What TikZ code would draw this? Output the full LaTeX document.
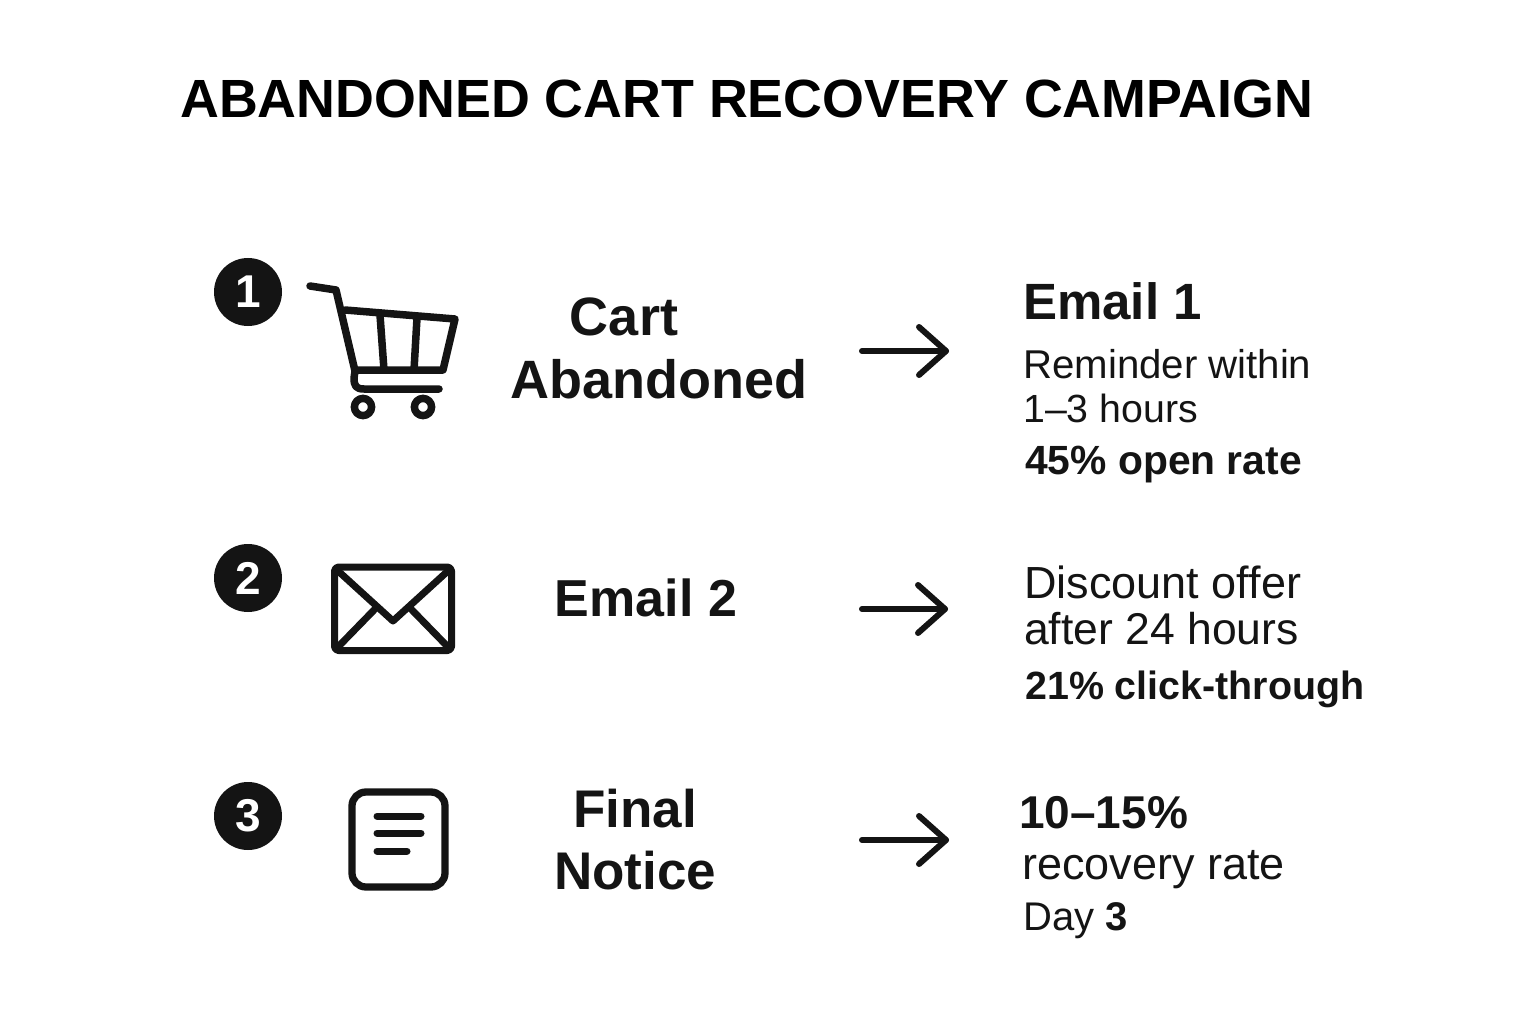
\documentclass[tikz,border=0pt]{standalone}
\usepackage{fontspec}
\setmainfont{Liberation Sans}
\usetikzlibrary{calc}
\begin{document}
\begin{tikzpicture}[x=1pt,y=-1pt,
  ink/.style={draw=black!92,line width=7.5pt,line cap=round,line join=round},
  badge/.style={circle,fill=black!92,minimum size=68pt,inner sep=0pt,text=white,font=\fontsize{46}{46}\selectfont\bfseries},
  head/.style={font=\fontsize{54}{62}\selectfont\bfseries,align=center,text=black!92},
  big/.style={font=\fontsize{51}{62}\selectfont\bfseries,anchor=west,inner sep=0pt,text=black!92},
  body/.style={font=\fontsize{40}{46}\selectfont,anchor=west,inner sep=0pt,text=black!92},
  stat/.style={font=\fontsize{40}{46}\selectfont\bfseries,anchor=west,inner sep=0pt,text=black!92},
  flow/.style={draw=black!92,line width=6pt,line cap=round,line join=round}]
\useasboundingbox (0,0) rectangle (1536,1024);
\node[font=\fontsize{53.8}{60}\selectfont\bfseries,anchor=west,inner sep=0pt] (title) at (180,99) {ABANDONED CART RECOVERY CAMPAIGN};
\node[badge] (b1) at (248,292) {1};
\node[badge] (b2) at (248,578) {2};
\node[badge] (b3) at (248,816) {3};
% cart
\draw[ink] (310,286) -- (336,290) -- (355,371) -- (354,378) .. controls (354,386) and (356,389) .. (364,389) -- (439,389);
\draw[ink] (345,310) -- (455,319) -- (443,370) -- (355,370);
\draw[ink] (380,315) -- (384,370);
\draw[ink] (417,318) -- (414,370);
\draw[ink] (363,407) circle (8.6pt);
\draw[ink] (423,407) circle (8.6pt);
% envelope
\draw[ink,line width=7pt,rounded corners=4pt] (334.5,567) rectangle (451.5,650.5);
\draw[ink,line width=7pt] (337,570) -- (393,621) -- (449,570);
\draw[ink,line width=7pt] (337,648) -- (375,609);
\draw[ink,line width=7pt] (449,648) -- (411,609);
% note
\draw[ink,line width=7.3pt,rounded corners=14pt] (352,792) rectangle (445,887);
\draw[ink,line width=7pt] (377,816) -- (421,816);
\draw[ink,line width=7pt] (377,833) -- (421,833);
\draw[ink,line width=7pt] (377,851) -- (407,851);
% labels
\node[head] (s1a) at (624,317) {Cart};
\node[head] (s1b) at (659,379) {Abandoned};
\node[head,font=\fontsize{52}{62}\selectfont\bfseries] (s2) at (646,598) {Email 2};
\node[head,font=\fontsize{53}{62}\selectfont\bfseries] (s3) at (635,840) {Final\\Notice};
% arrows
\coordinate (a1s) at (862,351); \coordinate (a1e) at (946,351);
\coordinate (a2s) at (862,609); \coordinate (a2e) at (945,609);
\coordinate (a3s) at (862,840); \coordinate (a3e) at (946,840);
\draw[flow] (a1s) -- (a1e);
\draw[flow] ($(a1e)+(-27,-24)$) -- (a1e) -- ($(a1e)+(-27,24)$);
\draw[flow] (a2s) -- (a2e);
\draw[flow] ($(a2e)+(-27,-24)$) -- (a2e) -- ($(a2e)+(-27,24)$);
\draw[flow] (a3s) -- (a3e);
\draw[flow] ($(a3e)+(-27,-24)$) -- (a3e) -- ($(a3e)+(-27,24)$);
% right
\node[big] (e1) at (1023,301) {Email 1};
\node[body,font=\fontsize{40.2}{46}\selectfont] (r1) at (1023,364) {Reminder within};
\node[body,font=\fontsize{39.3}{46}\selectfont] (r2) at (1023,408) {1–3 hours};
\node[stat,font=\fontsize{40.8}{46}\selectfont\bfseries] (r3) at (1025,465) {45\% open rate};
\node[body,font=\fontsize{45}{46}\selectfont] (d1) at (1024,582) {Discount offer};
\node[body,font=\fontsize{44.5}{46}\selectfont] (d2) at (1024,629) {after 24 hours};
\node[stat,font=\fontsize{39.4}{46}\selectfont\bfseries] (d3) at (1025,689) {21\% click-through};
\node[big,font=\fontsize{46}{62}\selectfont\bfseries] (f1) at (1019,813) {10–15\%};
\node[body,font=\fontsize{45}{46}\selectfont] (f2) at (1022,870) {recovery rate};
\node[body] (f3) at (1023,921) {Day \textbf{3}};
\end{tikzpicture}
\end{document}
